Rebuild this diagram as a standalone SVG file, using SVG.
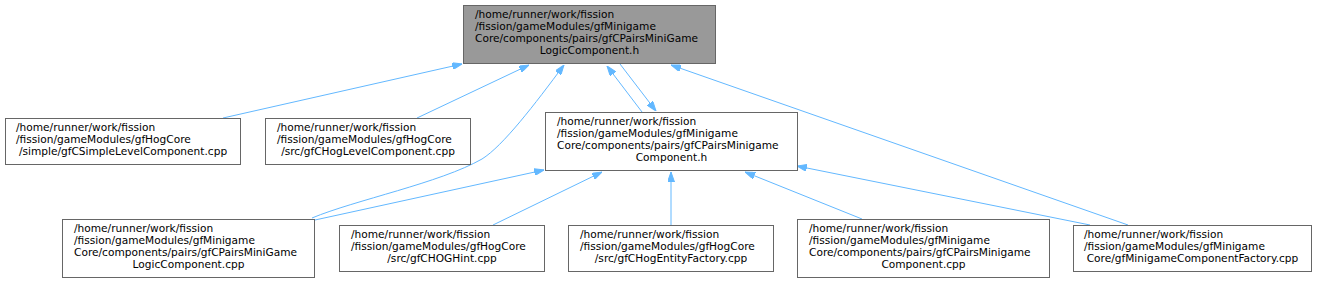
<svg xmlns="http://www.w3.org/2000/svg" width="1317" height="283" viewBox="0 0 1317 283">
<defs>
<style>
text{font-family:"DejaVu Sans","Liberation Sans",sans-serif;font-size:10.6px;fill:#000}
.c{text-anchor:middle}
.box{fill:#fff;stroke:#666;stroke-width:1}
.main{fill:#999;stroke:#666;stroke-width:1}
.e{fill:none;stroke:#63b8ff;stroke-width:1;marker-end:url(#ah)}
</style>
<marker id="ah" viewBox="0 0 10 7" refX="10" refY="3.5" markerWidth="10" markerHeight="7" markerUnits="userSpaceOnUse" orient="auto">
<path d="M0,0 L10,3.5 L0,7 z" fill="#63b8ff" stroke="#63b8ff"/>
</marker>
</defs>
<rect width="1317" height="283" fill="#fff"/>
<g id="edges">
<path class="e" d="M223,118 L462,64"/>
<path class="e" d="M417,118 L529,65"/>
<path class="e" d="M312,218 C355,200 440,183 482,159 C503,146 535,104 564,65"/>
<path class="e" d="M642,112 L607,66"/>
<path class="e" d="M620,64 L656,111"/>
<path class="e" d="M1128,225 L671,65"/>
<path class="e" d="M315,220 L544,170"/>
<path class="e" d="M493,225 L602,172"/>
<path class="e" d="M671,225 L671,172"/>
<path class="e" d="M862,219 L745,172"/>
<path class="e" d="M1090,225 L797,166"/>
</g>
<g id="top">
<rect class="main" x="463.5" y="5.5" width="252" height="58"/>
<text x="475" y="18">/home/runner/work/fission</text>
<text x="475" y="30">/fission/gameModules/gfMinigame</text>
<text x="475" y="42">Core/components/pairs/gfCPairsMiniGame</text>
<text class="c" x="589.5" y="54">LogicComponent.h</text>
</g>
<g id="simple">
<rect class="box" x="5.5" y="118.5" width="235" height="46"/>
<text x="16" y="131">/home/runner/work/fission</text>
<text x="16" y="143">/fission/gameModules/gfHogCore</text>
<text class="c" x="123" y="155">/simple/gfCSimpleLevelComponent.cpp</text>
</g>
<g id="hoglevel">
<rect class="box" x="265.5" y="118.5" width="205" height="46"/>
<text x="277" y="131">/home/runner/work/fission</text>
<text x="277" y="143">/fission/gameModules/gfHogCore</text>
<text class="c" x="368" y="155">/src/gfCHogLevelComponent.cpp</text>
</g>
<g id="middle">
<rect class="box" x="545.5" y="112.5" width="252" height="58"/>
<text x="557" y="125">/home/runner/work/fission</text>
<text x="557" y="137">/fission/gameModules/gfMinigame</text>
<text x="557" y="149">Core/components/pairs/gfCPairsMinigame</text>
<text class="c" x="671.5" y="161">Component.h</text>
</g>
<g id="logiccpp">
<rect class="box" x="62.5" y="219.5" width="252" height="58"/>
<text x="74" y="232">/home/runner/work/fission</text>
<text x="74" y="244">/fission/gameModules/gfMinigame</text>
<text x="74" y="256">Core/components/pairs/gfCPairsMiniGame</text>
<text class="c" x="188.5" y="268">LogicComponent.cpp</text>
</g>
<g id="hoghint">
<rect class="box" x="339.5" y="225.5" width="205" height="46"/>
<text x="351" y="238">/home/runner/work/fission</text>
<text x="351" y="250">/fission/gameModules/gfHogCore</text>
<text class="c" x="442" y="262">/src/gfCHOGHint.cpp</text>
</g>
<g id="entityfactory">
<rect class="box" x="568.5" y="225.5" width="205" height="46"/>
<text x="580" y="238">/home/runner/work/fission</text>
<text x="580" y="250">/fission/gameModules/gfHogCore</text>
<text class="c" x="671" y="262">/src/gfCHogEntityFactory.cpp</text>
</g>
<g id="pairscpp">
<rect class="box" x="797.5" y="219.5" width="252" height="58"/>
<text x="809" y="232">/home/runner/work/fission</text>
<text x="809" y="244">/fission/gameModules/gfMinigame</text>
<text x="809" y="256">Core/components/pairs/gfCPairsMinigame</text>
<text class="c" x="923.5" y="268">Component.cpp</text>
</g>
<g id="compfactory">
<rect class="box" x="1073.5" y="225.5" width="238" height="46"/>
<text x="1084" y="238">/home/runner/work/fission</text>
<text x="1084" y="250">/fission/gameModules/gfMinigame</text>
<text class="c" x="1192.5" y="262">Core/gfMinigameComponentFactory.cpp</text>
</g>
</svg>
